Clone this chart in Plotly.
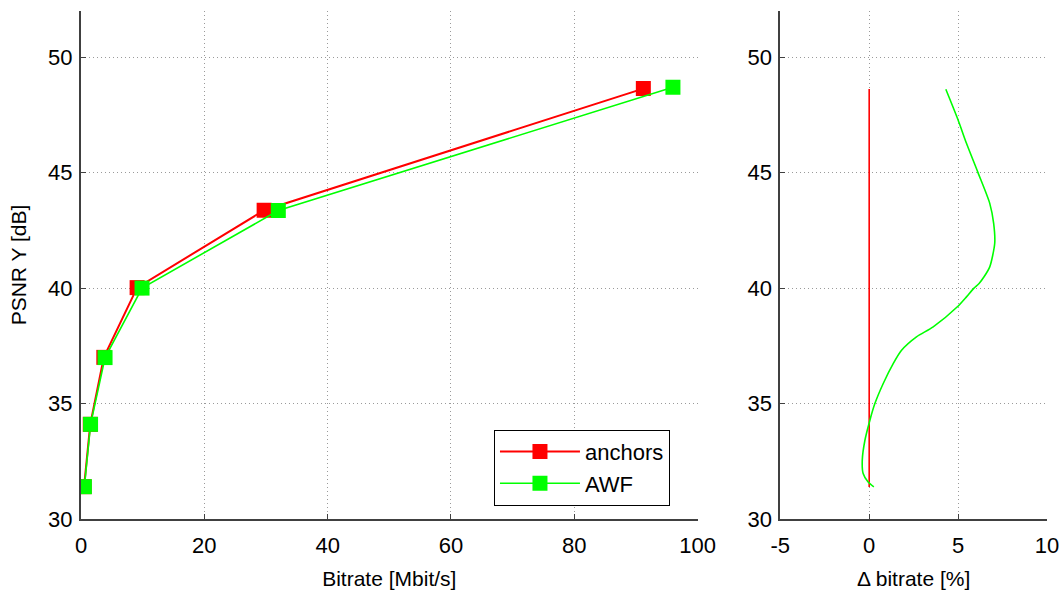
import plotly.graph_objects as go

# ---- data ----
anchors_bitrate = [0.5, 1.5, 3.7, 9.1, 29.7, 91.2]
anchors_psnr = [31.40, 34.10, 37.00, 40.02, 43.37, 48.64]
awf_bitrate = [0.55, 1.55, 3.9, 9.9, 32.0, 96.0]
awf_psnr = [31.40, 34.10, 36.99, 40.00, 43.36, 48.70]

delta_anchor_x = [0.0, 0.0]
delta_anchor_y = [31.39, 48.62]

delta_awf_x = [4.31, 5.00, 5.47, 6.12, 6.78, 7.00, 7.06, 6.78, 6.46, 6.18, 5.88, 5.47, 4.96,
               3.60, 2.66, 1.82, 1.35, 0.79, 0.32, 0.04, -0.24, -0.39, -0.34, -0.06, 0.26]
delta_awf_y = [48.61, 47.28, 46.27, 45.00, 43.67, 42.80, 41.94, 40.92, 40.49, 40.20, 39.99, 39.62, 39.19,
               38.32, 37.89, 37.31, 36.73, 35.87, 35.00, 34.28, 33.41, 32.54, 31.97, 31.60, 31.39]

left_xticks = [0, 20, 40, 60, 80, 100]
right_xticks = [-5, 0, 5, 10]
right_xticklabels = ["-5", "0", "5", "10"]
yticks = [30, 35, 40, 45, 50]

RED = "#ff0000"
GREEN = "#00ff00"
FONT = "Liberation Sans, Arial, sans-serif"

fig = go.Figure()

fig.add_trace(go.Scatter(
    x=anchors_bitrate, y=anchors_psnr, name="anchors", mode="lines+markers",
    line=dict(color=RED, width=2),
    marker=dict(symbol="square", size=15, color=RED),
    xaxis="x", yaxis="y"))
fig.add_trace(go.Scatter(
    x=awf_bitrate, y=awf_psnr, name="AWF", mode="lines+markers",
    line=dict(color=GREEN, width=1.6),
    marker=dict(symbol="square", size=15, color=GREEN),
    xaxis="x", yaxis="y"))

fig.add_trace(go.Scatter(
    x=delta_anchor_x, y=delta_anchor_y, mode="lines", showlegend=False,
    line=dict(color=RED, width=1.6), xaxis="x2", yaxis="y2"))
fig.add_trace(go.Scatter(
    x=delta_awf_x, y=delta_awf_y, mode="lines", showlegend=False,
    line=dict(color=GREEN, width=1.6, shape="spline", smoothing=0.7),
    xaxis="x2", yaxis="y2"))

axis_common = dict(
    showline=True, linecolor="#404040", linewidth=2,
    ticks="inside", ticklen=5, tickcolor="#404040", tickwidth=1,
    showgrid=True, gridcolor="#9a9a9a", griddash="1px,3px", gridwidth=1,
    zeroline=False, tickfont=dict(family=FONT, size=22, color="black"),
    mirror=False, automargin=False,
)

fig.update_layout(
    width=1062, height=593,
    margin=dict(l=81, r=15, t=11, b=74),
    paper_bgcolor="white", plot_bgcolor="white",
    font=dict(family=FONT, size=21, color="black"),
    xaxis=dict(domain=[0, 0.6383], range=[0, 100], tickvals=left_xticks,
               ticklabelstandoff=6,
               title=dict(text="Bitrate [Mbit/s]", standoff=14,
                          font=dict(family=FONT, size=21)),
               anchor="y", **axis_common),
    yaxis=dict(domain=[0, 1], range=[30, 52], tickvals=yticks,
               ticklabelstandoff=2,
               title=dict(text="PSNR Y [dB]", standoff=16,
                          font=dict(family=FONT, size=21)),
               anchor="x", **axis_common),
    xaxis2=dict(domain=[0.7239, 1], range=[-5, 10], tickvals=right_xticks,
                ticktext=right_xticklabels, ticklabelstandoff=6,
                title=dict(text="Δ bitrate [%]", standoff=14,
                           font=dict(family=FONT, size=21)),
                anchor="y2", **axis_common),
    yaxis2=dict(domain=[0, 1], range=[30, 52], tickvals=yticks,
                ticklabelstandoff=2,
                anchor="x2", **axis_common),
    legend=dict(
        x=0.5186, y=0.026, xanchor="center", yanchor="bottom",
        bgcolor="white", bordercolor="black", borderwidth=1,
        font=dict(family=FONT, size=22, color="black"),
        itemwidth=80, tracegroupgap=8,
    ),
    showlegend=True,
)

fig.write_html("out.html")
